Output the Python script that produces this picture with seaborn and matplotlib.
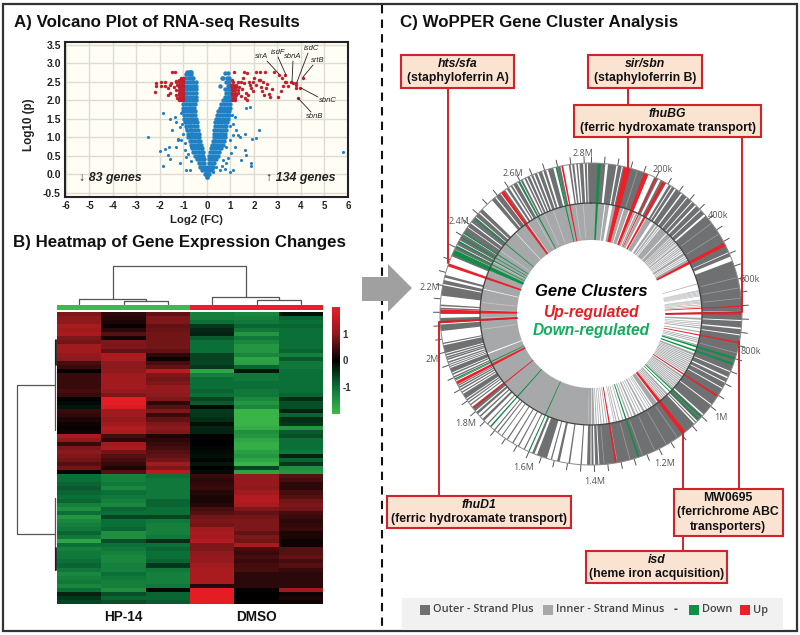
import numpy as np
import pandas as pd
import seaborn as sns
import matplotlib.pyplot as plt
from matplotlib.colors import LinearSegmentedColormap
from matplotlib.patches import Rectangle, Polygon

W, H = 800, 635

# ---------- volcano data: (log10 p, [log2 fc values]) read row by row ----------
blue_left = [
    (-0.08, [-0.02, 0.0]), (0.0, [-0.1, -0.03]), (0.1, [-0.2, -0.1, -0.04]), (0.2, [-0.28, -0.17, -0.07]),
    (0.3, [-0.36, -0.24, -0.12]), (0.4, [-0.44, -0.32, -0.2, -0.12]), (0.5, [-0.52, -0.4, -0.28, -0.16]),
    (0.6, [-0.58, -0.46, -0.34, -0.22, -0.16]), (0.7, [-0.62, -0.5, -0.38, -0.26, -0.2]),
    (0.8, [-0.68, -0.56, -0.44, -0.32, -0.24]), (0.9, [-0.74, -0.62, -0.5, -0.38, -0.28]),
    (1.0, [-0.8, -0.68, -0.56, -0.44, -0.32]), (1.1, [-0.82, -0.7, -0.58, -0.46, -0.34]),
    (1.2, [-0.86, -0.74, -0.62, -0.5, -0.38]), (1.3, [-0.9, -0.78, -0.66, -0.54, -0.42]),
    (1.4, [-0.92, -0.8, -0.68, -0.56, -0.44]), (1.5, [-0.96, -0.84, -0.72, -0.6, -0.48]),
    (1.6, [-0.98, -0.86, -0.74, -0.62, -0.5]), (1.7, [-1.0, -0.88, -0.76, -0.64, -0.52]),
    (1.8, [-1.03, -0.9, -0.78, -0.66, -0.54]), (1.9, [-1.0, -0.88, -0.76, -0.64, -0.5]),
    (2.0, [-0.96, -0.84, -0.72, -0.6, -0.47]), (2.1, [-0.96, -0.84, -0.72, -0.6, -0.48]),
    (2.2, [-0.95, -0.83, -0.71, -0.59, -0.47]), (2.3, [-0.95, -0.83, -0.71, -0.59, -0.46]),
    (2.4, [-0.96, -0.84, -0.72, -0.6, -0.46]), (2.5, [-0.97, -0.85, -0.73, -0.6, -0.47]),
    (2.6, [-0.95, -0.8, -0.72, -0.65, -0.58]), (2.7, [-0.88, -0.76, -0.68]), (2.76, [-0.85, -0.78, -0.72, -0.68]),
]
blue_right = [
    (0.0, [0.03, 0.1]), (0.1, [0.04, 0.12, 0.2]), (0.2, [0.06, 0.16, 0.26]), (0.3, [0.08, 0.18, 0.3]),
    (0.4, [0.08, 0.2, 0.32, 0.4]), (0.5, [0.1, 0.22, 0.34, 0.46]), (0.6, [0.14, 0.26, 0.38, 0.5]),
    (0.7, [0.16, 0.28, 0.4, 0.52, 0.6]), (0.8, [0.2, 0.32, 0.44, 0.56, 0.68]), (0.9, [0.24, 0.36, 0.48, 0.6, 0.72]),
    (1.0, [0.28, 0.4, 0.52, 0.64, 0.76]), (1.1, [0.3, 0.42, 0.54, 0.66, 0.78]), (1.2, [0.32, 0.44, 0.56, 0.68, 0.8]),
    (1.3, [0.35, 0.47, 0.59, 0.71, 0.83]), (1.4, [0.36, 0.48, 0.6, 0.72, 0.84]), (1.5, [0.4, 0.52, 0.64, 0.76, 0.9]),
    (1.6, [0.44, 0.56, 0.68, 0.8, 0.92]), (1.7, [0.48, 0.6, 0.72, 0.84, 0.95]), (1.8, [0.54, 0.66, 0.78, 0.9, 0.98]),
    (1.9, [0.6, 0.72, 0.84, 0.96]), (2.0, [0.7, 0.82, 0.94]), (2.1, [0.78, 0.9, 1.0]), (2.2, [0.8, 0.9, 0.98]),
    (2.3, [0.75, 0.9, 0.98]), (2.4, [0.55, 0.9, 0.98]), (2.5, [0.8, 0.9, 0.95]), (2.6, [0.62, 0.7, 0.85, 0.95]),
    (2.75, [0.77, 0.9]),
]
blue_x = [-2.5, -2.0, -1.8, -1.87, -1.6, -1.66, -1.56, -1.87, -1.59, -1.38, -1.3, -1.16, -1.23, -1.09, -1.33, -1.0,
          -0.88, -0.95, -1.16, -0.9, -0.74, -0.88, -0.67, -1.09, -1.5, -1.25, -1.05, -0.95, -0.8, -0.7,
          5.79, 2.2, 2.1, 1.91, 1.82, 1.67, 1.32, 1.42, 1.6, 1.1, 1.1, 1.25, 1.18, 1.6, 1.67, 1.46, 1.89, 1.89,
          1.1, 0.96, 0.82, 1.03, 0.96, 0.82, 0.68, 0.54, 0.4, 0.25, 1.05, 1.0, 0.9, 1.2, 0.75, 0.62]
blue_y = [1.0, 0.63, 0.68, 0.23, 0.74, 0.52, 0.41, 1.65, 1.5, 1.55, 1.42, 1.28, 0.92, 0.92, 0.74, 1.1,
          1.24, 0.65, 0.3, 0.1, 0.1, 0.47, 0.74, 1.65, 1.2, 0.95, 1.35, 0.85, 0.55, 0.35,
          0.6, 1.2, 0.97, 0.95, 1.83, 1.78, 1.05, 1.01, 1.08, 1.05, 1.37, 1.2, 0.74, 0.65, 0.52, 0.38, 0.3, 0.23,
          0.11, 0.06, 0.3, 0.56, 0.92, 0.74, 0.38, 0.1, 0.2, 0.06, 1.6, 1.3, 0.45, 1.55, 0.15, 0.22]

red_rows = [
    (2.0, [-1.02, -1.12, -1.2, 1.05, 1.15, 1.2]), (2.07, [-1.02, -1.1, -1.18, -1.26, 1.1, 1.2]),
    (2.14, [-1.02, -1.1, -1.18, -1.3, 1.05, 1.15, 1.25]), (2.21, [-1.02, -1.1, -1.18, 1.08, 1.18, 1.3]),
    (2.28, [-1.02, -1.1, -1.18, -1.3, 1.05, 1.12, 1.2, 1.3]), (2.35, [-1.02, -1.1, -1.18, 1.05, 1.15, 1.25, 1.35]),
    (2.42, [-1.02, -1.1, -1.18, -1.27, 1.02, 1.12, 1.22]), (2.49, [-1.02, -1.1, -1.18, -1.3, 1.1, 1.3, 1.45]),
    (2.56, [-1.02, -1.1, -1.18, 1.05]), (2.6, [-1.02, -1.1]),
]
red_x = [-2.18, -2.18, -2.23, -1.97, -1.97, -1.77, -1.77, -1.59, -1.66, -1.48, -1.38, -1.52, -1.42, -1.33, -1.59, -1.66,
         1.13, 1.56, 2.1, 2.27, 2.45, 2.84, 3.06, 3.32, 3.2, 3.3, 3.38, 3.59, 3.66, 3.25, 3.46, 3.77, 4.09, 3.77, 3.97,
         3.77, 3.87, 3.16, 3.02, 1.5, 1.58, 1.65, 1.72, 1.8, 1.88, 1.95, 2.02, 2.1, 2.2, 2.3, 2.4, 2.5, 2.55, 2.65, 2.75,
         1.45, 1.55, 1.6, 1.75, 1.85, 1.95, 2.25, 2.35, 2.42, 2.7, 1.7]
red_y = [2.48, 2.39, 2.22, 2.5, 2.39, 2.5, 2.39, 2.41, 2.32, 2.77, 2.77, 2.46, 2.35, 2.52, 2.19, 2.14,
         2.77, 2.77, 2.77, 2.77, 2.77, 2.77, 2.69, 2.69, 2.6, 2.5, 2.5, 2.5, 2.46, 2.4, 2.4, 2.46, 2.6, 2.32, 2.34,
         2.42, 2.07, 2.26, 2.08, 2.3, 2.48, 2.2, 2.75, 2.5, 2.32, 2.5, 2.6, 2.42, 2.55, 2.35, 2.5, 2.32, 2.45, 2.18, 2.3,
         2.12, 2.6, 2.05, 2.15, 2.42, 2.25, 2.55, 2.25, 2.15, 2.1, 2.0]

xticks_volcano = [-6, -5, -4, -3, -2, -1, 0, 1, 2, 3, 4, 5, 6]
yticks_volcano = [-0.5, 0.0, 0.5, 1.0, 1.5, 2.0, 2.5, 3.0, 3.5]

# ---------- heatmap data ----------
hp14_a = [0.9, 1.0, 1.0, 1.3, 1.2, 1.3, 0.9, 0.8, 1.2, 1.2, 1.1, 1.0, 0.5, 0.4, 0.0, 0.4, 0.4, 0.4, 0.4, 0.5,
          0.4, 0.0, -0.1, -0.2, 0.4, 0.35, 0.2, 0.1, 0.05, 0.1, 1.3, 1.0, 0.4, 0.9, 1.0, 0.9, 0.8, 0.6, 0.8, 0.05,
          -1.0, -1.0, -0.9, -0.8, -0.9, -1.0, -0.9, -1.2, -1.4, -1.0, -1.5, -1.3, -1.2, -1.1, -0.9, -1.1,
          -1.7, -1.0, -1.2, -1.1, -1.1, -1.0, -0.9, -1.1, -1.3, -1.2, -1.1, -1.3, -1.0, -0.3, -0.5, -0.6]
hp14_b = [0.3, 0.25, 0.2, 0.05, 0.3, 0.6, 0.15, 0.9, 0.9, 0.7, 1.3, 1.3, 1.0, 1.0, 1.0, 1.2, 1.2, 1.2, 1.2, 1.1,
          0.9, 1.9, 1.9, 1.8, 1.2, 1.2, 1.1, 1.2, 1.4, 1.3, 0.5, 0.3, 1.2, 1.3, 0.8, 0.6, 0.5, 0.4, 0.2, 0.6,
          -1.2, -1.2, -1.1, -1.3, -1.0, -1.1, -1.2, -1.3, -0.9, -1.0, -0.6, -1.0, -1.0, -0.9, -1.4, -1.4,
          -0.7, -1.0, -1.1, -1.2, -1.3, -1.3, -1.2, -1.2, -1.0, -1.1, -1.2, -1.2, -1.4, -0.7, -0.9, -0.7]
hp14_c = [0.7, 0.9, 0.9, 0.7, 0.75, 0.8, 0.8, 0.8, 0.8, 0.7, 0.3, 0.1, 0.5, 0.7, 1.5, 0.9, 0.8, 0.9, 1.1, 1.1,
          1.0, 0.9, 0.3, 0.6, 0.9, 0.4, 0.7, 0.9, 1.0, 0.9, 0.2, 0.3, 0.4, 0.5, 0.6, 0.7, 0.8, 1.2, 0.9, 1.5,
          -1.0, -1.1, -1.1, -1.1, -1.1, -1.1, -0.9, -0.9, -1.0, -1.0, -0.6, -1.1, -1.2, -1.2, -1.2, -1.1,
          -0.4, -1.0, -0.9, -1.0, -1.0, -0.9, -0.5, -1.1, -1.2, -1.2, -1.2, -1.1, -0.1, -0.9, -0.9, -0.8]
dmso_a = [-1.2, -1.2, -1.0, -0.5, -0.35, -0.3, -0.8, -1.0, -1.0, -1.0, -0.6, -0.6, -0.6, -0.5, -1.7, -1.2, -1.0, -1.0, -1.0, -0.9,
          -1.0, -0.6, -0.8, -0.1, -0.5, -0.5, -0.4, -0.15, -0.3, -0.3, 0.0, 0.0, 0.0, -0.05, -0.1, -0.15, -0.05, -0.2, 0.0, -0.1,
          0.4, 0.3, 0.35, 0.4, 0.25, 0.2, 0.2, 0.25, 0.5, 0.6, 0.8, 0.9, 0.8, 1.2, 1.3, 1.2,
          1.4, 0.9, 0.9, 1.0, 1.1, 1.1, 1.2, 1.3, 1.3, 1.3, 1.3, 0.3, 1.9, 1.9, 1.9, 1.9]
dmso_b = [-1.3, -1.2, -1.1, -0.9, -1.1, -1.5, -1.1, -1.3, -1.5, -1.5, -1.3, -1.7, -1.6, -0.9, -0.2, -1.1, -1.1, -1.0, -1.0, -1.1,
          -1.1, -1.3, -1.5, -1.3, -1.9, -1.9, -1.9, -1.9, -1.8, -1.4, -1.5, -1.7, -1.8, -1.8, -1.6, -1.5, -1.7, -1.9, -0.6, -1.7,
          1.1, 1.1, 1.1, 1.0, 1.2, 1.4, 1.4, 1.3, 0.9, 0.7, 0.8, 0.9, 0.9, 0.9, 0.7, 0.9,
          0.8, 1.3, 0.5, 0.4, 0.5, 0.4, 0.5, 0.5, 0.3, 0.3, 0.3, 0.3, 0.05, 0.0, 0.0, 0.05]
dmso_c = [-0.15, -0.9, -1.0, -0.9, -1.0, -1.0, -1.0, -1.0, -1.0, -0.9, -1.2, -0.8, -1.1, -1.1, -1.0, -1.0, -1.0, -1.0, -1.0, -1.0,
          -0.9, -0.4, -0.7, -0.7, -0.3, -0.9, -0.4, -0.5, -1.5, -0.8, -0.7, -1.0, -1.0, -1.0, -1.1, -0.3, -0.9, -0.5, -1.4, -1.5,
          0.6, 0.5, 0.3, 0.3, 0.5, 0.6, 0.8, 0.9, 0.8, 0.5, 0.4, 0.3, 0.35, 0.4, 0.2, 0.2,
          0.1, 0.1, 0.6, 0.6, 0.7, 0.5, 0.6, 0.4, 0.3, 0.3, 0.3, 0.3, 1.2, 0.1, 0.2, 0.1]
sample_groups = [-2, 2]
group_labels = ["HP-14", "DMSO"]

# ---------- genome ring data, degrees clockwise from the origin ----------
outer_genes = [
    (0, 5.5), (6.5, 9.7), (10.3, 11.8), (12.2, 22.2), (24.8, 26.5), (27.5, 29.9), (31.1, 32.1), (32.5, 33.7),
    (34.3, 36.7), (37.3, 39.3), (39.7, 41.8), (42.2, 43.7), (44.3, 46.3), (46.7, 48.6), (49.4, 65.8),
    (66.1, 67.6), (69.4, 88.8), (89.2, 92.3),
    (92.7, 95.2), (95.8, 97.8), (98.2, 112.3), (112.7, 114.7), (115.3, 116.8), (117.2, 119.3),
    (119.7, 126.8), (127.2, 131.7), (132.3, 135.2), (135.7, 136.2), (136.8, 176.8), (177.2, 178.4), (179, 179.8),
    (180.2, 181.5), (183.5, 184), (188, 188.6),
    (192, 193), (195, 195.5), (197, 201), (202, 203), (206, 206.5), (208.5, 209), (211, 211.5), (213.5, 214),
    (216, 216.4), (218, 218.5), (219.5, 220), (223, 223.5), (225, 226), (227, 227.6), (228.5, 229.5), (230, 232),
    (232.8, 233.3), (234, 234.5), (235, 235.6), (236, 238), (238.5, 239), (239.6, 240.2), (240.6, 241.2), (241.5, 242),
    (243.8, 244.2), (245, 245.6), (246.2, 246.8), (247.2, 249), (249.4, 249.8), (250.2, 250.6), (251, 251.6),
    (252.2, 252.8), (253, 253.6), (254, 254.6), (255, 258), (258.5, 259), (263.5, 266), (266.8, 268.5), (270, 271),
    (271.8, 272.4), (273, 273.6), (277, 281), (281.5, 283), (284, 285), (292.5, 295), (295.3, 297), (297.3, 299),
    (299.3, 302), (302.3, 305), (305.3, 307), (307.5, 310), (310.3, 312), (312.5, 314), (319, 320.5), (321, 323),
    (324.5, 325.3), (326, 327), (327.8, 328.5), (329, 330.5), (331, 331.5), (332.2, 333), (333.8, 334.5), (335, 336),
    (336.6, 337.4), (338, 339), (339.6, 341), (341.6, 342.6), (343.4, 345.5), (346.9, 348.3), (351.5, 352.2),
    (352.8, 353.6), (354.4, 355), (355.6, 357), (357.6, 358.4), (358.8, 360),
]
outer_streaks = [18, 53, 58, 76, 80, 84, 105, 145, 150, 155, 160, 165, 170, 175]
inner_genes = [
    (0, 3), (3.5, 7), (7.5, 9.5), (11.2, 13), (15.2, 17), (17.5, 20), (22.5, 23.5), (24, 25), (26, 27.5), (30, 33),
    (34.5, 36), (36.5, 37.5), (38, 38.5), (39, 43), (43.5, 46), (46.3, 47), (47.3, 48), (48.3, 49), (49.3, 50),
    (50.3, 50.6), (51, 52), (52.5, 53), (53.4, 54), (54.4, 55), (55.5, 56), (56.5, 58), (58.5, 59), (59.5, 60),
    (60.5, 62), (74, 74.4), (77.5, 77.8), (78, 78.3), (78.6, 78.9), (79.2, 79.5), (79.8, 80.1), (80.4, 80.7),
    (82.5, 82.8), (83, 83.3), (83.6, 83.9), (84.2, 84.5), (85, 85.4), (86, 86.4), (92, 93), (94, 94.4), (95, 95.4),
    (96, 96.4), (97, 97.6), (99, 99.6), (102.5, 103), (103.5, 104), (104.5, 105), (106, 106.6), (110.8, 112),
    (112.4, 113), (113.4, 114), (114.4, 115), (115.4, 116), (116.4, 117), (117.4, 118), (118.4, 119), (119.4, 120),
    (120.4, 121), (121.4, 122), (124, 125), (125.4, 126), (126.4, 127), (127.4, 128), (128.4, 129), (129.4, 130),
    (130.4, 131), (131.4, 132), (132.2, 132.8), (136, 137), (137.4, 138), (138.4, 139), (139.4, 140), (140.4, 141),
    (143.3, 146), (146.8, 147.3), (148, 148.4), (149.5, 150), (151, 152), (153, 153.5), (154.5, 155), (156, 157),
    (158, 158.5), (159.5, 160.3), (163, 163.5), (165, 165.5), (166.5, 167), (167.6, 168), (171.5, 172), (173, 173.5),
    (174.5, 175), (175.8, 176.2), (177, 177.5), (178.2, 179.5), (179.8, 181.5), (181.5, 248.7), (249.3, 282.8),
    (283.2, 317), (317.3, 325), (325.2, 360),
]
inner_streaks = [262, 268, 272, 276, 298, 305, 330, 335, 340, 352, 356]
up_genes = [(14, 2.5), (21.5, 1.8), (25.5, 0.6), (29, 1.2), (62.5, 1.4), (87, 0.5), (90, 0.4), (101, 0.6), (123, 0.7),
            (142, 1.6), (170.5, 0.7), (231.4, 0.6), (242.8, 1.2), (266.7, 0.5), (271, 1.5), (289, 1.2), (324, 1.3),
            (349, 0.7)]
down_genes = [(3.1, 1.2), (107.2, 0.9), (109.4, 0.9), (133, 0.6), (134.5, 0.5), (161.6, 0.7), (204.3, 0.5),
              (221.7, 0.6), (244.5, 0.5), (294.2, 2.0), (296.5, 0.5), (298.7, 0.5), (300.5, 0.4), (302.5, 0.5),
              (309.4, 0.5), (331.6, 0.6), (346.7, 0.6)]
genome_kb = 2820
tick_kb = list(range(0, 2820, 40))
ring_labels = ["2.8M", "200k", "400k", "600k", "800k", "1M", "1.2M", "1.4M", "1.6M", "1.8M", "2M", "2.2M", "2.4M", "2.6M"]
ring_label_x = [583, 663, 718, 750, 751, 721, 665, 595, 524, 466, 432, 430, 459, 513]
ring_label_y = [154, 170, 215, 280, 352, 417, 463, 481, 467, 424, 359, 288, 221, 173]

sns.set_theme(style="white")
plt.rcParams["font.family"] = ["Liberation Sans", "DejaVu Sans"]

fig = plt.figure(figsize=(8, 6.35), dpi=100)


def px_axes(x0, y0, x1, y1, **kw):
    return fig.add_axes([x0 / W, 1 - y1 / H, (x1 - x0) / W, (y1 - y0) / H], **kw)


# A) volcano, the dense arms get a bigger dot so they close up like the original
dense = []
for y, xs in blue_left + blue_right:
    dense += [(x, y) for x in xs]
dense = pd.DataFrame(dense, columns=["fc", "p"])
sparse = pd.DataFrame({"fc": blue_x, "p": blue_y})
rows = []
for y, xs in red_rows:
    rows += [(x, y) for x in xs]
rows += list(zip(red_x, red_y))
signif = pd.DataFrame(rows, columns=["fc", "p"])

ax = px_axes(65, 42, 348, 197)
ax.set_facecolor("#fffdf4")
ax.grid(True, color="#dedcd2", lw=1)
ax.set_axisbelow(True)
sns.scatterplot(data=dense, x="fc", y="p", color="#1f80c4", s=10, linewidth=0, ax=ax, zorder=3)
sns.scatterplot(data=sparse, x="fc", y="p", color="#1f80c4", s=5, linewidth=0, ax=ax, zorder=3)
sns.scatterplot(data=signif, x="fc", y="p", color="#c01f2e", s=6, linewidth=0, ax=ax, zorder=4)
ax.set_xlim(-6.04, 6.0)
ax.set_ylim(-0.62, 3.58)
ax.set_xticks(xticks_volcano)
ax.set_yticks(yticks_volcano)
ax.set_xticklabels([str(v) for v in xticks_volcano], fontsize=7, fontweight="bold", color="#222")
ax.set_yticklabels([f"{v:.1f}" for v in yticks_volcano], fontsize=7.5, fontweight="bold", color="#222")
ax.tick_params(length=0, pad=3)
ax.set_xlabel("")
ax.set_ylabel("")
for s in ax.spines.values():
    s.set_linewidth(1.5)
    s.set_color("#222")

# B) heatmap
green_red = LinearSegmentedColormap.from_list("gr", ["#3dbb4a", "#0b7038", "#000000", "#8c1a1c", "#ee1c25"])
expr = pd.DataFrame({"a": hp14_a, "b": hp14_b, "c": hp14_c, "d": dmso_a, "e": dmso_b, "f": dmso_c})
hm = px_axes(57, 312, 323, 604)
cb = px_axes(332, 307, 340, 414)
sns.heatmap(expr, ax=hm, cbar_ax=cb, cmap=green_red, vmin=-2, vmax=2, xticklabels=False, yticklabels=False)
cb.set_yticks([1, 0, -1])
cb.set_yticklabels(["1", "0", "-1"], fontsize=7, fontweight="bold", color="#333")
cb.tick_params(length=0, pad=2)
hm.collections[0].colorbar.outline.set_visible(False)

grp = px_axes(57, 305, 323, 310)
sns.heatmap(np.array([sample_groups]), ax=grp, cmap=green_red, vmin=-2, vmax=2, cbar=False,
            xticklabels=False, yticklabels=False)

# C) genome ring, radius is in pixels
ring = px_axes(591 - 165, 314 - 165, 591 + 165, 314 + 165, projection="polar")
ring.set_theta_zero_location("N")
ring.set_theta_direction(-1)


def draw_blocks(blocks, r0, r1, color):
    a = np.array(blocks, dtype=float)
    mid = np.deg2rad((a[:, 0] + a[:, 1]) / 2)
    ring.bar(mid, r1 - r0, width=np.deg2rad(a[:, 1] - a[:, 0]), bottom=r0, color=color, linewidth=0)


draw_blocks(outer_genes, 111, 151, "#6f7072")
draw_blocks(inner_genes, 74, 111, "#a6a8aa")
ring.vlines(np.deg2rad(outer_streaks), 113, 150, color="#a0a1a3", lw=0.5, zorder=2)
ring.vlines(np.deg2rad(inner_streaks), 76, 110, color="#c9cacc", lw=0.5, zorder=2)
for genes, col in [(up_genes, "#ed1f27"), (down_genes, "#0f8f46")]:
    g = np.array(genes)
    ring.bar(np.deg2rad(g[:, 0]), 77, width=np.deg2rad(g[:, 1]), bottom=74, color=col, linewidth=0, zorder=3)
circle = np.linspace(0, 2 * np.pi, 720)
ring.plot(circle, np.full(720, 111), color="#444444", lw=0.9, zorder=4)
ring.plot(circle, np.full(720, 151), color="#888888", lw=0.7, zorder=4)
ring.vlines(np.array(tick_kb) / genome_kb * 2 * np.pi, 151, 158, color="#555555", lw=0.7)
ring.set_rlim(0, 165)
ring.axis("off")

# overlay in pixel coordinates: frame, titles, boxes, connectors
ov = px_axes(0, 0, W, H, zorder=10)
ov.set_xlim(0, W)
ov.set_ylim(H, 0)
ov.axis("off")
ov.patch.set_alpha(0)

ov.add_patch(Rectangle((3, 4), 794, 627, fill=False, ec="#333333", lw=1.6))
ov.plot([382, 382], [5, 630], color="#111111", lw=1.5, ls=(0, (4, 3)))
ov.add_patch(Polygon([(362, 277), (388, 277), (388, 264), (412, 288), (388, 312), (388, 301), (362, 301)],
                     fc="#a0a0a0", ec="none", zorder=5))

for txt, x, y in [("A) Volcano Plot of RNA-seq Results", 14, 23), ("B) Heatmap of Gene Expression Changes", 13, 243),
                  ("C) WoPPER Gene Cluster Analysis", 400, 23)]:
    ov.text(x, y, txt, fontsize=12.2, fontweight="bold", color="#111", va="center", ha="left")

ov.text(196, 220, "Log2 (FC)", fontsize=8.2, fontweight="bold", ha="center", va="center", color="#222")
ov.text(29, 125, "Log10 (p)", fontsize=8.4, fontweight="bold", ha="center", va="center", rotation=90, color="#222")
ov.text(79, 178, "\u2193 83 genes", fontsize=8.9, fontweight="bold", style="italic", va="center", color="#222")
ov.text(266, 178, "\u2191 134 genes", fontsize=8.9, fontweight="bold", style="italic", va="center", color="#222")

gene_notes = [("sirA", 262, 57, 267, 61, 279, 74), ("isdF", 278, 53, 278, 57, 286, 75), ("sbnA", 293, 57, 293, 61, 292, 82),
              ("isdC", 312, 48, 308, 53, 297, 82), ("srtB", 318, 61, 313, 65, 303, 77), ("sbnC", 328, 101, 318, 97, 301, 88),
              ("sbnB", 315, 117, 311, 112, 298, 98)]
for name, tx, ty, x0, y0, x1, y1 in gene_notes:
    ov.text(tx, ty, name, fontsize=5.5, style="italic", ha="center", va="center", color="#222")
    ov.plot([x0, x1], [y0, y1], color="#222", lw=0.6)

# dendrograms
dendro = [([113, 113, 246, 246], [299, 266, 266, 297]),
          ([79, 79, 146, 146], [304, 299, 299, 301]), ([124, 124, 168, 168], [304, 301, 301, 304]),
          ([212, 212, 279, 279], [304, 297, 297, 300]), ([257, 257, 301, 301], [304, 300, 300, 304]),
          ([55, 17, 17, 55], [385, 385, 534, 534]), ([55, 55], [340, 430]), ([55, 55], [498, 570])]
for xs, ys in dendro:
    ov.plot(xs, ys, color="#555555", lw=0.9)
ov.plot([56, 56], [340, 365], color="#111", lw=1.2)
ov.plot([56, 56], [548, 570], color="#111", lw=1.2)

ov.text(123, 617, group_labels[0], fontsize=9.8, fontweight="bold", ha="center", va="center", color="#111")
ov.text(256, 617, group_labels[1], fontsize=9.8, fontweight="bold", ha="center", va="center", color="#111")

for lab, x, y in zip(ring_labels, ring_label_x, ring_label_y):
    ov.text(x, y, lab, fontsize=6.5, family="Open Sans", color="#555", ha="center", va="center")

ov.text(591, 292, "Gene Clusters", fontsize=12, fontweight="bold", style="italic", ha="center", va="center", color="#000")
ov.text(591, 312, "Up-regulated", fontsize=11.2, fontweight="bold", style="italic", ha="center", va="center", color="#ed1c24")
ov.text(591, 330, "Down-regulated", fontsize=11.2, fontweight="bold", style="italic", ha="center", va="center", color="#12ad5c")

connectors = [([628, 628], [88, 105]), ([628, 628], [137, 168]), ([742, 742, 666], [137, 312, 314]),
              ([448, 448], [88, 263]), ([439, 439, 517], [496, 322, 318]), ([739, 739], [489, 341]),
              ([683, 683], [489, 432]), ([683, 683], [536, 551])]
for xs, ys in connectors:
    ov.plot(xs, ys, color="#d2232a", lw=1.4, zorder=3)

boxes = [(401, 55, 514, 88, "hts/sfa", "(staphyloferrin A)"), (588, 55, 702, 88, "sir/sbn", "(staphyloferrin B)"),
         (574, 105, 761, 137, "fhuBG", "(ferric hydroxamate transport)"),
         (387, 496, 571, 528, "fhuD1", "(ferric hydroxamate transport)"),
         (586, 551, 727, 583, "isd", "(heme iron acquisition)")]
for x0, y0, x1, y1, top, bottom in boxes:
    ov.add_patch(Rectangle((x0, y0), x1 - x0, y1 - y0, fc="#fbe3d2", ec="#d2232a", lw=1.5, zorder=4))
    ov.text((x0 + x1) / 2, y0 + 9, top, fontsize=8.8, fontweight="bold", style="italic", ha="center", va="center", zorder=5, color="#111")
    ov.text((x0 + x1) / 2, y0 + 23, bottom, fontsize=8.8, fontweight="bold", ha="center", va="center", zorder=5, color="#111")
ov.add_patch(Rectangle((674, 489), 109, 47, fc="#fbe3d2", ec="#d2232a", lw=1.5, zorder=4))
for txt, y in [("MW0695", 498), ("(ferrichrome ABC", 512), ("transporters)", 527)]:
    ov.text(728, y, txt, fontsize=8.8, fontweight="bold", ha="center", va="center", zorder=5, color="#111")

# legend strip
ov.add_patch(Rectangle((402, 598), 381, 32, fc="#f1f1f2", ec="none"))
for x, col, txt in [(420, "#6f7072", "Outer - Strand Plus"), (543, "#a6a8aa", "Inner - Strand Minus"),
                    (689, "#0f8f46", "Down"), (740, "#ed1f27", "Up")]:
    ov.add_patch(Rectangle((x, 605), 9.5, 9.5, fc=col, ec="none"))
    ov.text(x + 13, 610, txt, fontsize=7.9, family="Open Sans", fontweight="semibold", color="#444", va="center")
ov.text(676, 610, "-", fontsize=8.5, family="Open Sans", fontweight="bold", color="#444", ha="center", va="center")

fig.savefig("out.png", dpi=100, facecolor="white")
